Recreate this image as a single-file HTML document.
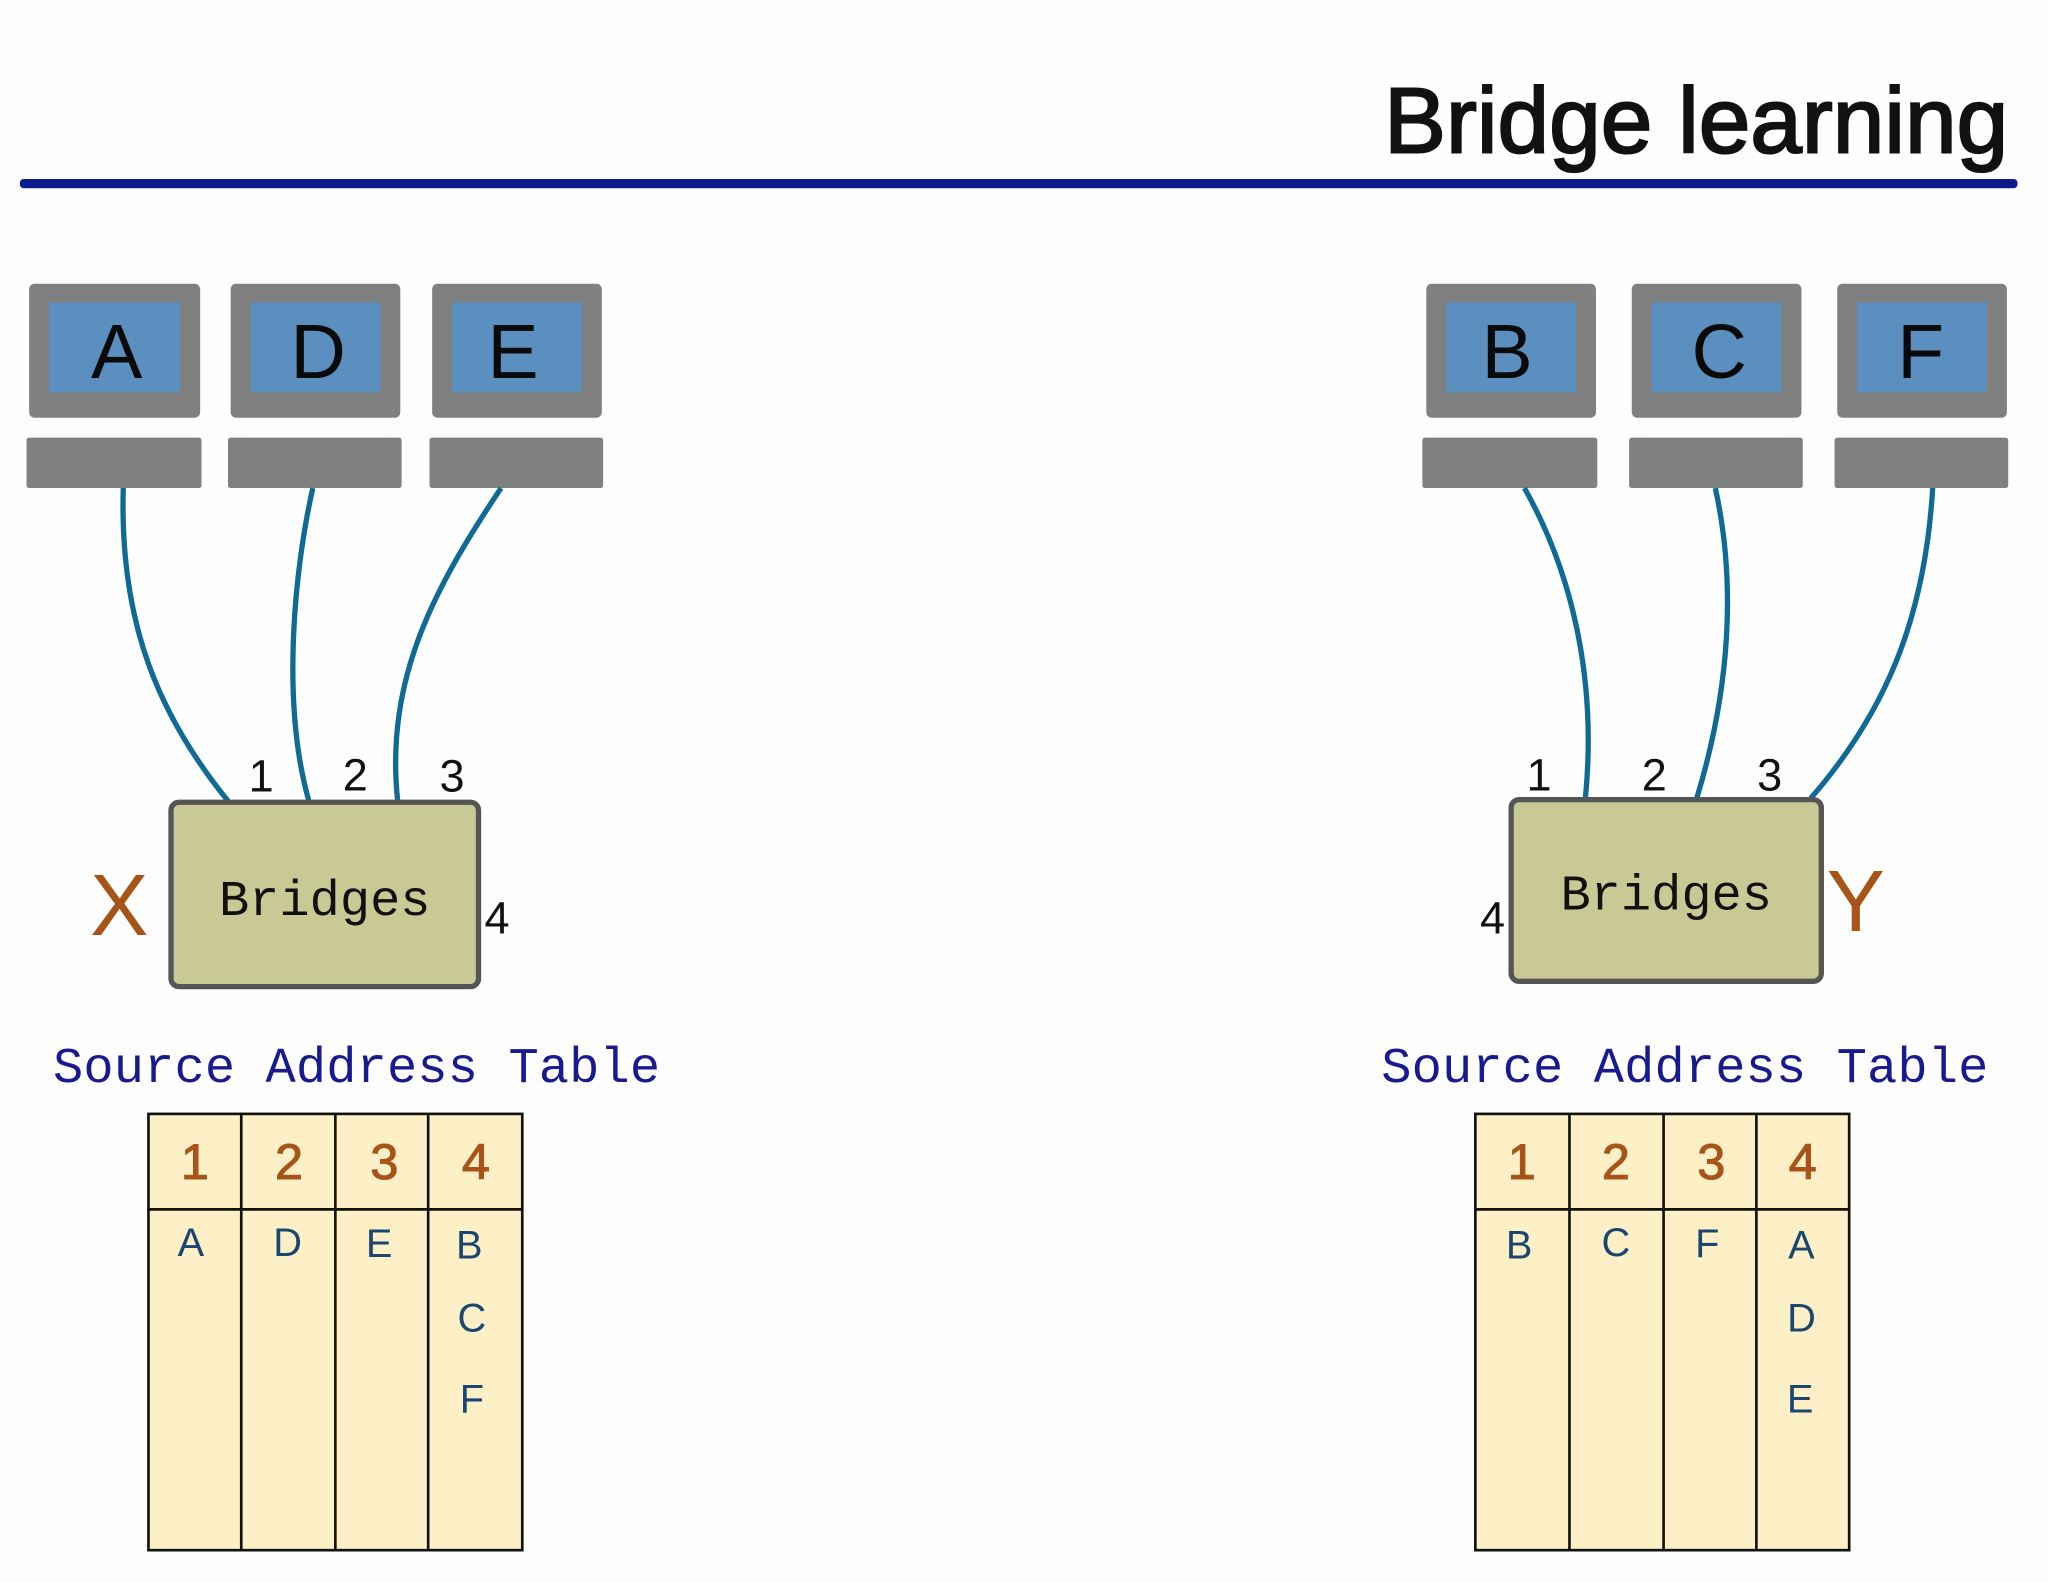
<!DOCTYPE html>
<html><head><meta charset="utf-8"><style>
html,body{margin:0;padding:0;background:#fefefe;}
svg{display:block;}
</style></head><body>
<svg width="2048" height="1582" viewBox="0 0 1545 1193" preserveAspectRatio="none" xmlns="http://www.w3.org/2000/svg">
<rect width="1545" height="1193" fill="#fefefe"/>
<text x="1515" y="115" text-anchor="end" font-family="Liberation Sans, sans-serif" font-size="70" fill="#111" stroke="#111" stroke-width="1.6">Bridge learning</text>
<rect x="15" y="135" width="1507" height="7" rx="3" fill="#0c1a8c"/>

<g fill="#808080">
<rect x="22" y="214" width="129" height="101" rx="4"/><rect x="20" y="330" width="132" height="38" rx="2"/>
<rect x="174" y="214" width="128" height="101" rx="4"/><rect x="172" y="330" width="131" height="38" rx="2"/>
<rect x="326" y="214" width="128" height="101" rx="4"/><rect x="324" y="330" width="131" height="38" rx="2"/>
<rect x="1076" y="214" width="128" height="101" rx="4"/><rect x="1073" y="330" width="132" height="38" rx="2"/>
<rect x="1231" y="214" width="128" height="101" rx="4"/><rect x="1229" y="330" width="131" height="38" rx="2"/>
<rect x="1386" y="214" width="128" height="101" rx="4"/><rect x="1384" y="330" width="131" height="38" rx="2"/>
</g>
<g fill="#5b8fbf">
<rect x="37" y="228" width="99" height="68"/>
<rect x="189" y="228" width="98" height="68"/>
<rect x="341" y="228" width="98" height="68"/>
<rect x="1091" y="228" width="98" height="68"/>
<rect x="1246" y="228" width="98" height="68"/>
<rect x="1401" y="228" width="98" height="68"/>
</g>
<g font-family="Liberation Sans, sans-serif" font-size="58" fill="#0a0a0a" text-anchor="middle">
<text x="88" y="285">A</text><text x="240" y="285">D</text><text x="387" y="285">E</text>
<text x="1137" y="285">B</text><text x="1297" y="285">C</text><text x="1449" y="285">F</text>
</g>

<g fill="none" stroke="#0f6a95" stroke-width="4">
<path d="M93,368 C90,470 120,540 172,604"/>
<path d="M236,368 C222,430 212,530 233,604"/>
<path d="M378,368 C330,440 290,510 300,604"/>
<path d="M1150,368 C1185,430 1205,510 1196,602"/>
<path d="M1294,368 C1310,440 1305,520 1280,602"/>
<path d="M1458,368 C1452,470 1420,540 1366,602"/>
</g>

<rect x="129" y="605" width="232" height="139" rx="6" fill="#c9c996" stroke="#555" stroke-width="4"/>
<rect x="1140" y="603" width="234" height="137" rx="6" fill="#c9c996" stroke="#555" stroke-width="4"/>
<g font-family="Liberation Mono, monospace" font-size="38" fill="#111" text-anchor="middle">
<text x="245" y="690">Bridges</text>
<text x="1257" y="686">Bridges</text>
</g>
<g font-family="Liberation Sans, sans-serif" font-size="34" fill="#111" text-anchor="middle">
<text x="197" y="597">1</text><text x="268" y="596">2</text><text x="341" y="597">3</text><text x="375" y="704">4</text>
<text x="1161" y="596">1</text><text x="1248" y="596">2</text><text x="1335" y="596">3</text><text x="1126" y="704">4</text>
</g>
<g font-family="Liberation Sans, sans-serif" font-size="66" fill="#a85418" text-anchor="middle">
<text x="90" y="705">X</text><text x="1400" y="702">Y</text>
</g>

<g font-family="Liberation Mono, monospace" font-size="38" fill="#1a1a90">
<text x="40" y="816" textLength="458">Source Address Table</text>
<text x="1042" y="816" textLength="458">Source Address Table</text>
</g>

<g stroke="#111" stroke-width="2" fill="#fdf0c6">
<rect x="112" y="840" width="282" height="329"/>
<line x1="112" y1="912" x2="394" y2="912"/>
<line x1="182" y1="840" x2="182" y2="1169"/><line x1="253" y1="840" x2="253" y2="1169"/><line x1="323" y1="840" x2="323" y2="1169"/>
<rect x="1113" y="840" width="282" height="329"/>
<line x1="1113" y1="912" x2="1395" y2="912"/>
<line x1="1184" y1="840" x2="1184" y2="1169"/><line x1="1255" y1="840" x2="1255" y2="1169"/><line x1="1325" y1="840" x2="1325" y2="1169"/>
</g>
<g font-family="Liberation Sans, sans-serif" font-size="38" fill="#a85418" text-anchor="middle" stroke="#a85418" stroke-width="0.8">
<text x="147" y="889">1</text><text x="218" y="889">2</text><text x="290" y="889">3</text><text x="359" y="889">4</text>
<text x="1148" y="889">1</text><text x="1219" y="889">2</text><text x="1291" y="889">3</text><text x="1360" y="889">4</text>
</g>
<g font-family="Liberation Sans, sans-serif" font-size="30" fill="#1a4670" text-anchor="middle">
<text x="144" y="947">A</text><text x="217" y="947">D</text><text x="286" y="948">E</text>
<text x="354" y="949">B</text><text x="356" y="1004">C</text><text x="356" y="1065">F</text>
<text x="1146" y="949">B</text><text x="1219" y="947">C</text><text x="1288" y="948">F</text>
<text x="1359" y="949">A</text><text x="1359" y="1004">D</text><text x="1358" y="1065">E</text>
</g>
</svg>
</body></html>
